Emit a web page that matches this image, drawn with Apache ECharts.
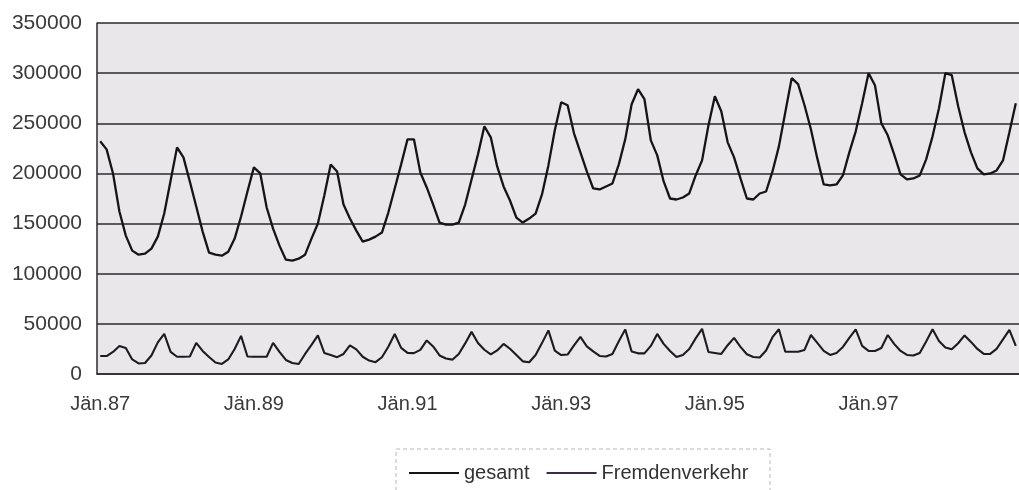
<!DOCTYPE html>
<html>
<head>
<meta charset="utf-8">
<script src="https://cdn.jsdelivr.net/npm/echarts@6/dist/echarts.min.js"></script>
<style>
  html, body { margin: 0; padding: 0; background: #ffffff; }
  #chart { width: 1019px; height: 490px; }
</style>
</head>
<body>
<div id="chart"></div>
<script>
// ---- data ----
const years = ['87','88','89','90','91','92','93','94','95','96','97','98'];
const monthNames = ['Jän','Feb','Mär','Apr','Mai','Jun','Jul','Aug','Sep','Okt','Nov','Dez'];
const seriesNames = ['gesamt', 'Fremdenverkehr'];
const yTicks = { min: 0, max: 350000, interval: 50000 };

const gesamt = [
  232000,224000,200000,162000,138000,123000,119000,120000,125000,137000,160000,193000,
  226000,216000,192000,167000,142000,121000,119000,118000,122000,135000,157000,182000,
  206000,200000,166000,145000,128000,114000,113000,115000,119000,135000,150000,178000,
  209000,202000,169000,155000,143000,132000,134000,137000,141000,161000,185000,209000,
  234000,234000,201000,186000,169000,151000,149000,149000,151000,169000,194000,219000,
  247000,236000,207000,187000,173000,156000,151000,155000,160000,179000,208000,243000,
  271000,268000,240000,221000,202000,185000,184000,187000,190000,209000,234000,269000,
  284000,274000,233000,218000,192000,175000,174000,176000,180000,198000,213000,248000,
  277000,262000,231000,216000,195000,175000,174000,180000,182000,202000,227000,261000,
  295000,289000,268000,244000,215000,189000,188000,189000,198000,221000,242000,270000,
  300000,288000,250000,238000,219000,199000,194000,195000,198000,214000,237000,265000,
  300000,298000,267000,241000,221000,205000,199000,200000,203000,213000,241000,270000
];

const fremdenverkehr = [
  17900,17900,22000,28000,26000,14500,10500,11000,18500,31500,40000,22000,
  17200,17200,17500,31000,23000,17000,11500,10000,14500,25000,38000,17500,
  17200,17200,17200,31000,22000,14000,11000,10000,20000,29000,38500,21000,
  19000,16800,20000,28500,24500,17200,13400,11800,16700,27200,39900,26000,
  21000,20800,24000,33500,27500,18500,15400,14300,20000,30500,42000,31000,
  24200,19600,23500,30000,25200,19000,12600,11700,19000,30800,43500,23300,
  18900,19400,28500,37000,27600,22500,18000,17500,20000,32600,44500,22500,
  20600,20600,28000,40000,30000,23000,17000,19000,25000,35500,45000,22000,
  21000,20000,28700,36000,27000,19700,17000,16400,23400,36700,44600,22200,
  22200,22200,24000,38900,31000,23000,19000,21000,27000,36000,44600,28000,
  23000,23000,26000,38900,30000,23000,19000,18400,21000,32500,44600,33000,
  26500,24700,30700,38500,32000,25000,20000,20000,25000,34600,44000,28000
];

const categories = [];
years.forEach(y => monthNames.forEach(m => categories.push(m + '.' + y)));

// ---- chart ----
const FONT = '"Liberation Sans", Arial, sans-serif';
const chart = echarts.init(document.getElementById('chart'), null, { renderer: 'canvas' });
chart.setOption({
  animation: false,
  backgroundColor: '#ffffff',
  grid: {
    left: 97, right: -8, top: 23, bottom: 116,
    show: true, backgroundColor: '#e9e7ea', borderWidth: 0
  },
  xAxis: {
    type: 'category',
    data: categories,
    boundaryGap: true,
    axisLine: { show: true, lineStyle: { color: '#2a2a2e', width: 1.5 } },
    axisTick: { show: false },
    axisLabel: {
      interval: 23,
      margin: 20,
      fontFamily: FONT, fontSize: 20, color: '#3a3a3a'
    },
    splitLine: { show: false }
  },
  yAxis: {
    type: 'value',
    min: yTicks.min, max: yTicks.max, interval: yTicks.interval,
    axisLine: { show: true, lineStyle: { color: '#2a2a2e', width: 1.5 } },
    axisTick: { show: false },
    axisLabel: {
      margin: 15,
      formatter: v => String(v),
      fontFamily: FONT, fontSize: 21, color: '#3a3a3a'
    },
    splitLine: { show: true, lineStyle: { color: '#2a2a30', width: 1.5 } }
  },
  legend: {
    data: seriesNames,
    left: 404, top: 458,
    icon: 'rect',
    itemWidth: 50, itemHeight: 2,
    itemGap: 17,
    textStyle: { fontFamily: FONT, fontSize: 20, color: '#333333' }
  },
  graphic: [{
    type: 'rect',
    silent: true,
    shape: { x: 396, y: 449, width: 374, height: 60 },
    style: { fill: 'none', stroke: '#b8b8b8', lineWidth: 1, lineDash: [4, 3] }
  }],
  series: [
    {
      name: seriesNames[0], type: 'line', data: gesamt,
      showSymbol: false, symbol: 'none',
      lineStyle: { color: '#151515', width: 2.3 },
      itemStyle: { color: '#151515' }
    },
    {
      name: seriesNames[1], type: 'line', data: fremdenverkehr,
      showSymbol: false, symbol: 'none',
      lineStyle: { color: '#1e1a22', width: 2.1 },
      itemStyle: { color: '#3a2c44' }
    }
  ]
});
</script>
</body>
</html>
